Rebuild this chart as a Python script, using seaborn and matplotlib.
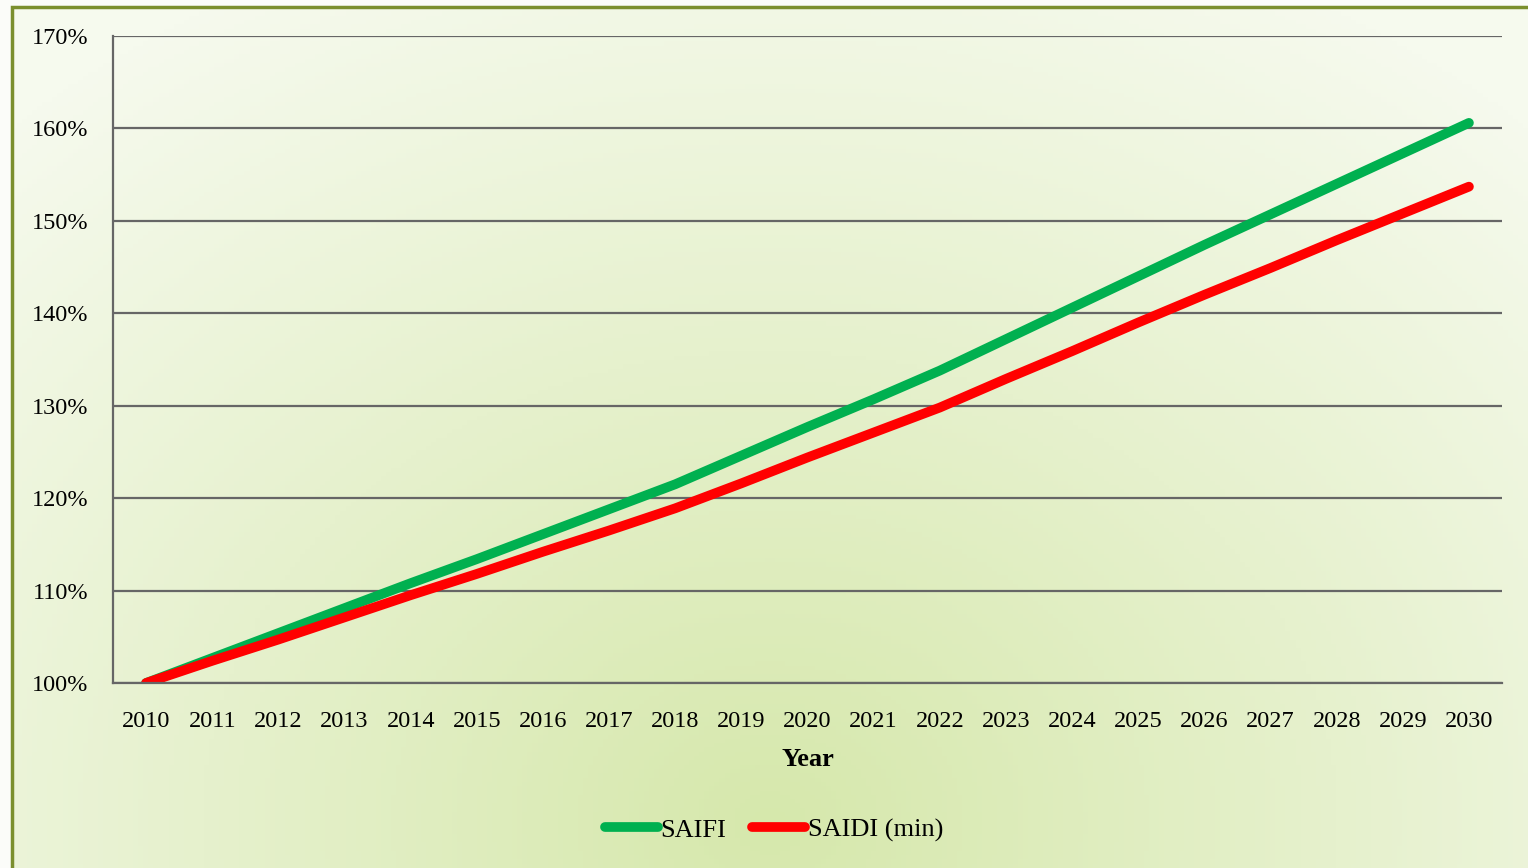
import numpy as np
import pandas as pd
import seaborn as sns
import matplotlib
matplotlib.use("Agg")
import matplotlib.pyplot as plt
from matplotlib.colors import LinearSegmentedColormap
from matplotlib.lines import Line2D
from matplotlib.patches import Rectangle

# data (percent of 2010 level)
years = [str(y) for y in range(2010, 2031)]
saifi = [100.0, 102.7, 105.4, 108.1, 110.8, 113.4, 116.1, 118.8, 121.5,
         124.6, 127.7, 130.7, 133.8, 137.2, 140.6, 144.0, 147.4,
         150.7, 154.0, 157.3, 160.6]
saidi = [100.0, 102.4, 104.7, 107.1, 109.5, 111.8, 114.2, 116.5, 118.9,
         121.6, 124.4, 127.1, 129.8, 132.9, 135.9, 139.0, 142.0,
         144.9, 147.9, 150.8, 153.7]
series_names = ["SAIFI", "SAIDI (min)"]
series_colors = ["#00b050", "#ff0000"]
y_ticks = list(range(100, 171, 10))

df = pd.concat([
    pd.DataFrame({"Year": years, "value": saifi, "series": series_names[0]}),
    pd.DataFrame({"Year": years, "value": saidi, "series": series_names[1]}),
])

sns.set_theme(style="white")
plt.rcParams["font.family"] = ["Liberation Serif", "DejaVu Serif"]

W, H = 1528, 868
fig = plt.figure(figsize=(W / 100, H / 100), dpi=100)
fig.patch.set_facecolor("#fbfcf9")

# gradient background panel
bg = fig.add_axes([12 / W, 0, 1 - 12 / W, 1 - 7 / H])
yy, xx = np.mgrid[0:1:200j, 0:1:300j]
dist = np.sqrt(((xx - 0.5) / 0.75) ** 2 + ((yy - 0.05) / 1.1) ** 2)
dist = np.clip(dist, 0, 1)
cmap = LinearSegmentedColormap.from_list("bg", ["#d6e8ac", "#e6f1cd", "#f6faee"])
bg.imshow(dist, cmap=cmap, origin="lower", aspect="auto", extent=[0, 1, 0, 1])
bg.set_axis_off()
fig.add_artist(Rectangle((12 / W, -0.01), 1.0, 1 - 7 / H + 0.01, transform=fig.transFigure,
                         fill=False, edgecolor="#7b8f2e", linewidth=2.5))

ax = fig.add_axes([113 / W, (H - 683) / H, (1502 - 113) / W, (683 - 36) / H])
ax.patch.set_alpha(0)

sns.lineplot(data=df, x="Year", y="value", hue="series", palette=series_colors,
             linewidth=7, legend=False, ax=ax, sort=False)
for ln in ax.get_lines():
    ln.set_solid_capstyle("round")
    ln.set_solid_joinstyle("round")

ax.set_xlim(-0.5, len(years) - 0.5)
ax.set_ylim(100, 170)
ax.set_yticks(y_ticks)
ax.set_yticklabels([f"{t}%" for t in y_ticks])
ax.yaxis.grid(True, color="#666666", linewidth=1.6)
ax.xaxis.grid(False)
ax.set_axisbelow(True)
for side in ["top", "right"]:
    ax.spines[side].set_visible(False)
for side in ["left", "bottom"]:
    ax.spines[side].set_color("#666666")
    ax.spines[side].set_linewidth(1.6)
ax.tick_params(axis="y", length=0, pad=18, labelsize=17.5, labelcolor="black")
ax.tick_params(axis="x", length=0, pad=20, labelsize=17.5, labelcolor="black")
ax.set_xlabel("Year", fontsize=19, fontweight="bold", labelpad=12, color="black")
ax.set_ylabel("")

handles = [Line2D([], [], color=c, linewidth=7, solid_capstyle="round") for c in series_colors]
fig.legend(handles, series_names, loc="center", bbox_to_anchor=(774 / W, (H - 830) / H),
           ncol=2, frameon=False, fontsize=19, handlelength=2.0, handletextpad=0.1,
           columnspacing=1.0, labelcolor="black")

fig.savefig("out.png", dpi=100)
